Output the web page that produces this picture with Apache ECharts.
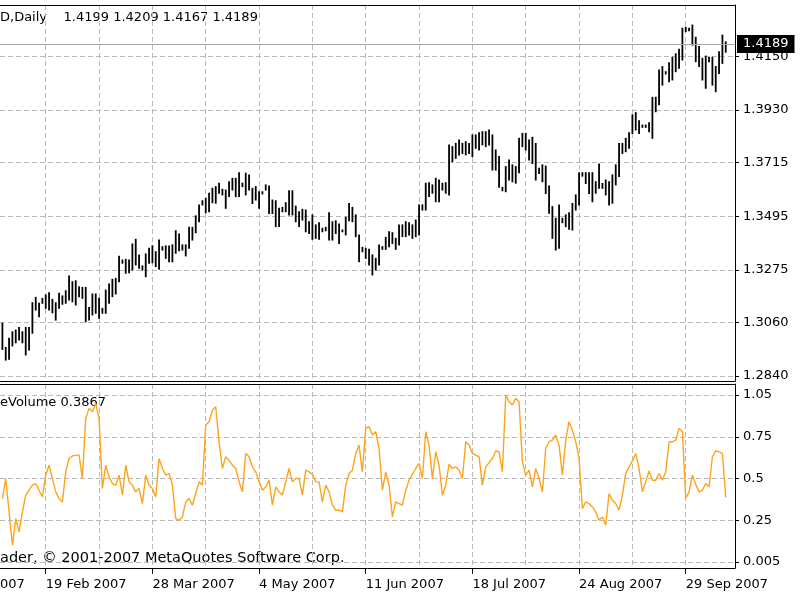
<!DOCTYPE html>
<html>
<head>
<meta charset="utf-8">
<title>EURUSD Daily</title>
<script src="https://cdn.jsdelivr.net/npm/echarts@6/dist/echarts.min.js"></script>
<style>
  html, body { margin: 0; padding: 0; background: #fff; }
  #chart { width: 800px; height: 600px; }
</style>
</head>
<body>
<div id="chart"></div>
<script>
// daily bars, index 0 = first bar visible at the left edge
var highs = [
  1.3056,1.2957,1.2994,1.3021,1.3028,1.3039,1.3021,1.3039,1.3039,1.3140,
  1.3162,1.3138,1.3158,1.3172,1.3181,1.3154,1.3140,1.3179,1.3168,1.3189,
  1.3250,1.3226,1.3230,1.3206,1.3203,1.3203,1.3121,1.3176,1.3176,1.3158,
  1.3117,1.3192,1.3217,1.3236,1.3240,1.3331,1.3315,1.3318,1.3315,1.3381,
  1.3400,1.3336,1.3291,1.3340,1.3363,1.3373,1.3349,1.3397,1.3370,1.3373,
  1.3373,1.3377,1.3435,1.3422,1.3377,1.3377,1.3449,1.3449,1.3496,1.3541,
  1.3558,1.3568,1.3589,1.3609,1.3616,1.3630,1.3605,1.3602,1.3636,1.3650,
  1.3650,1.3673,1.3630,1.3671,1.3664,1.3609,1.3616,1.3595,1.3595,1.3623,
  1.3618,1.3561,1.3558,1.3527,1.3531,1.3550,1.3599,1.3599,1.3536,1.3513,
  1.3523,1.3520,1.3472,1.3500,1.3459,1.3468,1.3445,1.3449,1.3509,1.3472,
  1.3476,1.3463,1.3438,1.3490,1.3547,1.3531,1.3500,1.3418,1.3367,1.3363,
  1.3359,1.3336,1.3322,1.3377,1.3370,1.3408,1.3431,1.3427,1.3404,1.3459,
  1.3459,1.3472,1.3468,1.3459,1.3479,1.3541,1.3541,1.3630,1.3632,1.3623,
  1.3650,1.3643,1.3630,1.3632,1.3787,1.3780,1.3793,1.3807,1.3793,1.3800,
  1.3793,1.3828,1.3828,1.3837,1.3841,1.3841,1.3848,1.3828,1.3766,1.3739,
  1.3613,1.3698,1.3725,1.3705,1.3698,1.3814,1.3834,1.3834,1.3807,1.3818,
  1.3793,1.3691,1.3705,1.3700,1.3619,1.3534,1.3486,1.3541,1.3486,1.3500,
  1.3509,1.3547,1.3582,1.3673,1.3673,1.3673,1.3673,1.3673,1.3636,1.3709,
  1.3629,1.3643,1.3636,1.3664,1.3705,1.3793,1.3793,1.3814,1.3837,1.3910,
  1.3919,1.3886,1.3868,1.3868,1.3878,1.3982,1.3982,1.4094,1.4108,1.4087,
  1.4124,1.4146,1.4160,1.4179,1.4265,1.4269,1.4265,1.4278,1.4228,1.4190,
  1.4142,1.4151,1.4146,1.4146,1.4108,1.4169,1.4237,1.4209
];
var lows = [
  1.2949,1.2905,1.2908,1.2963,1.2976,1.2987,1.2976,1.2926,1.2946,1.3015,
  1.3110,1.3083,1.3138,1.3117,1.3110,1.3099,1.3069,1.3117,1.3134,1.3138,
  1.3151,1.3144,1.3131,1.3165,1.3158,1.3062,1.3069,1.3090,1.3097,1.3076,
  1.3097,1.3097,1.3138,1.3165,1.3176,1.3226,1.3302,1.3261,1.3263,1.3274,
  1.3295,1.3281,1.3274,1.3247,1.3302,1.3304,1.3288,1.3277,1.3356,1.3322,
  1.3308,1.3308,1.3343,1.3353,1.3356,1.3332,1.3363,1.3397,1.3427,1.3472,
  1.3541,1.3509,1.3513,1.3550,1.3548,1.3589,1.3582,1.3527,1.3575,1.3602,
  1.3575,1.3575,1.3616,1.3582,1.3602,1.3547,1.3561,1.3527,1.3586,1.3602,
  1.3506,1.3506,1.3452,1.3452,1.3513,1.3513,1.3500,1.3500,1.3472,1.3452,
  1.3479,1.3431,1.3424,1.3400,1.3404,1.3400,1.3431,1.3435,1.3397,1.3397,
  1.3424,1.3383,1.3431,1.3418,1.3476,1.3472,1.3411,1.3308,1.3349,1.3322,
  1.3295,1.3254,1.3274,1.3295,1.3359,1.3359,1.3370,1.3383,1.3359,1.3377,
  1.3411,1.3411,1.3418,1.3404,1.3411,1.3418,1.3520,1.3520,1.3575,1.3589,
  1.3554,1.3554,1.3602,1.3589,1.3582,1.3718,1.3732,1.3746,1.3752,1.3746,
  1.3752,1.3739,1.3773,1.3766,1.3787,1.3780,1.3787,1.3684,1.3684,1.3613,
  1.3599,1.3595,1.3643,1.3636,1.3630,1.3673,1.3780,1.3766,1.3725,1.3711,
  1.3643,1.3670,1.3636,1.3588,1.3507,1.3404,1.3356,1.3363,1.3468,1.3452,
  1.3441,1.3438,1.3520,1.3541,1.3659,1.3629,1.3588,1.3554,1.3589,1.3609,
  1.3609,1.3582,1.3541,1.3548,1.3623,1.3657,1.3752,1.3759,1.3773,1.3834,
  1.3848,1.3834,1.3859,1.3859,1.3841,1.3814,1.3923,1.3951,1.4032,1.4078,
  1.4046,1.4053,1.4087,1.4101,1.4135,1.4251,1.4255,1.4196,1.4128,1.4108,
  1.4053,1.4019,1.4128,1.4032,1.4005,1.4080,1.4121,1.4167
];
// indicator in the lower window, one value per bar
var volumes = [
  0.38,0.50,0.30,0.10,0.26,0.18,0.30,0.40,0.43,0.46,
  0.47,0.43,0.39,0.52,0.58,0.50,0.42,0.38,0.36,0.54,
  0.62,0.635,0.64,0.64,0.50,0.86,0.92,0.90,0.95,0.86,
  0.44,0.58,0.51,0.47,0.46,0.52,0.40,0.58,0.48,0.46,
  0.42,0.44,0.35,0.52,0.46,0.44,0.39,0.62,0.56,0.52,
  0.53,0.46,0.26,0.25,0.27,0.36,0.38,0.34,0.41,0.48,
  0.46,0.82,0.84,0.91,0.93,0.72,0.56,0.63,0.61,0.58,
  0.56,0.48,0.42,0.65,0.63,0.57,0.54,0.48,0.43,0.45,
  0.49,0.34,0.45,0.42,0.40,0.48,0.56,0.48,0.50,0.50,
  0.40,0.55,0.54,0.525,0.48,0.48,0.36,0.46,0.42,0.34,
  0.31,0.31,0.30,0.46,0.53,0.55,0.65,0.70,0.54,0.80,
  0.81,0.76,0.78,0.68,0.43,0.54,0.46,0.27,0.36,0.35,
  0.34,0.43,0.49,0.525,0.56,0.59,0.50,0.78,0.70,0.50,
  0.66,0.58,0.40,0.46,0.585,0.56,0.57,0.55,0.50,0.72,
  0.70,0.65,0.64,0.63,0.46,0.57,0.595,0.62,0.665,0.66,
  0.54,1.00,0.96,0.94,0.98,0.96,0.60,0.52,0.55,0.45,
  0.56,0.50,0.42,0.68,0.72,0.73,0.76,0.70,0.52,0.73,
  0.84,0.79,0.72,0.62,0.32,0.36,0.35,0.33,0.30,0.25,
  0.27,0.22,0.41,0.37,0.35,0.31,0.40,0.53,0.57,0.605,
  0.65,0.56,0.42,0.48,0.545,0.49,0.49,0.53,0.49,0.54,
  0.72,0.72,0.73,0.80,0.78,0.38,0.42,0.52,0.465,0.42,
  0.43,0.47,0.45,0.63,0.665,0.66,0.65,0.3867
];
var lastBar = { open: 1.4199, high: 1.4209, low: 1.4167, close: 1.4189 };

// axis ticks
var priceTicks = [1.2840, 1.3060, 1.3275, 1.3495, 1.3715, 1.3930, 1.4150];
var volumeTicks = [0, 0.25, 0.5, 0.75, 1];
var volumeTickLabels = ['0.005', '0.25', '0.5', '0.75', '1.05'];
var gridBars = [13, 29, 45, 61, 77, 93, 109, 125, 141, 157, 173, 189, 205];
var dateBars = [13, 45, 77, 109, 141, 173, 205];
var dateLabels = ['19 Feb 2007', '28 Mar 2007', '4 May 2007', '11 Jun 2007',
                  '18 Jul 2007', '24 Aug 2007', '29 Sep 2007'];

var FONT = 'DejaVu Sans';
var gridLine = { color: '#b9b9b9', type: [5, 3], width: 1 };
var frameLine = { show: true, onZero: false, lineStyle: { color: '#000', width: 1 } };

var renderBar = function(params, api) {
  var i = api.value(0);
  var hi = api.coord([i, api.value(1)]);
  var lo = api.coord([i, api.value(2)]);
  return {
    type: 'line',
    shape: { x1: hi[0], y1: hi[1] - 0.5, x2: lo[0], y2: lo[1] + 0.5 },
    style: { stroke: '#000', lineWidth: 1.8 }
  };
};

var barData = highs.map(function(h, i) { return [i, h, lows[i]]; });
var volData = volumes.map(function(v, i) { return [i, v]; });

// 3.33 px per bar, first bar at x = 2.4
var xMin = -0.72, xMax = 219.78;

// x axis helper: frame edge, optional vertical grid
var frameX = function(grid, pos, withGrid) {
  return {
    gridIndex: grid, type: 'value', min: xMin, max: xMax, position: pos,
    axisLine: frameLine,
    axisTick: { show: false, customValues: gridBars },
    axisLabel: { show: false },
    splitLine: { show: withGrid, lineStyle: gridLine }
  };
};

var option = {
  animation: false,
  backgroundColor: '#fff',
  textStyle: { fontFamily: FONT },
  grid: [
    { left: 0, right: 65, top: 5, height: 376 },
    { left: 0, right: 65, top: 384, height: 184 }
  ],
  xAxis: [
    frameX(0, 'bottom', true),
    frameX(0, 'top', false),
    { gridIndex: 1, type: 'value', min: xMin, max: xMax, position: 'bottom',
      axisLine: frameLine,
      axisTick: { show: true, customValues: dateBars, length: 6, lineStyle: { color: '#000' } },
      axisLabel: {
        customValues: dateBars, align: 'left', margin: 10,
        color: '#000', fontSize: 13, fontFamily: FONT,
        formatter: function(v) {
          var k = dateBars.indexOf(Math.round(v));
          return k >= 0 ? dateLabels[k] : '';
        }
      },
      splitLine: { show: false } },
    frameX(1, 'top', true)
  ],
  yAxis: [
    { gridIndex: 0, type: 'value', position: 'right', min: 1.28193, max: 1.43603,
      axisLine: frameLine,
      axisTick: { show: true, customValues: priceTicks, length: 4, lineStyle: { color: '#000' } },
      axisLabel: {
        customValues: priceTicks, margin: 8, color: '#000', fontSize: 13, fontFamily: FONT,
        formatter: function(v) { return v.toFixed(4); }
      },
      splitLine: { show: true, lineStyle: gridLine } },
    { gridIndex: 1, type: 'value', position: 'right', min: -0.0359, max: 1.0659,
      axisLine: frameLine,
      axisTick: { show: true, customValues: volumeTicks, length: 4, lineStyle: { color: '#000' } },
      axisLabel: {
        customValues: volumeTicks, margin: 8, color: '#000', fontSize: 13, fontFamily: FONT,
        formatter: function(v) {
          var k = volumeTicks.indexOf(v);
          return k >= 0 ? volumeTickLabels[k] : '';
        }
      },
      splitLine: { show: true, lineStyle: gridLine } }
  ],
  series: [
    {
      name: 'EURUSD',
      type: 'custom',
      xAxisIndex: 0,
      yAxisIndex: 0,
      renderItem: renderBar,
      encode: { x: 0, y: [1, 2] },
      data: barData,
      markLine: {
        silent: true,
        symbol: 'none',
        lineStyle: { color: '#a8a8a8', type: 'solid', width: 1 },
        label: {
          position: 'end', distance: 2,
          formatter: lastBar.close.toFixed(4),
          color: '#fff', backgroundColor: '#000',
          padding: [3, 6, 2, 6], fontSize: 13, fontFamily: FONT
        },
        data: [{ yAxis: lastBar.close }]
      }
    },
    {
      name: 'Volume',
      type: 'line',
      xAxisIndex: 2,
      yAxisIndex: 1,
      data: volData,
      showSymbol: false,
      lineStyle: { color: '#ffa31a', width: 1.4 }
    }
  ],
  graphic: [
    { type: 'text', left: 0, top: 11,
      style: { text: 'D,Daily    ' + lastBar.open.toFixed(4) + ' ' + lastBar.high.toFixed(4) + ' ' +
               lastBar.low.toFixed(4) + ' ' + lastBar.close.toFixed(4),
               font: '13px ' + FONT, fill: '#000' } },
    { type: 'text', left: 0, top: 396,
      style: { text: 'eVolume ' + volumes[volumes.length - 1].toFixed(4), font: '13px ' + FONT, fill: '#000' } },
    { type: 'text', left: 0, top: 551,
      style: { text: 'ader, \u00a9 2001-2007 MetaQuotes Software Corp.', font: '14.5px ' + FONT, fill: '#000' } },
    { type: 'text', left: 0, top: 578,
      style: { text: '007', font: '13px ' + FONT, fill: '#000' } }
  ]
};

var chart = echarts.init(document.getElementById('chart'));
chart.setOption(option);
</script>
</body>
</html>
